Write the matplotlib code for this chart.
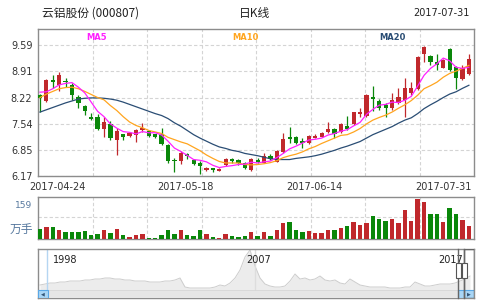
import matplotlib
matplotlib.use("Agg")
import matplotlib.pyplot as plt
from matplotlib.patches import Rectangle

# === Données ===
title_txt = "云铝股份 (000807)"
period_txt = "日K线"
last_date = "2017-07-31"
date_labels = ["2017-04-24", "2017-05-18", "2017-06-14", "2017-07-31"]
date_label_pos = [2.8, 22.7, 42.8, 63.0]
price_ticks = [6.17, 6.85, 7.54, 8.22, 8.91, 9.59]

opens = [8.28, 8.13, 8.67, 8.56, 8.66, 8.55, 8.24, 8.01, 7.70, 7.72,
         7.40, 7.52, 7.11, 7.26, 7.22, 7.24, 7.37, 7.35, 7.26, 7.26,
         6.98, 6.59, 6.55, 6.74, 6.59, 6.51, 6.32, 6.37, 6.31, 6.45,
         6.62, 6.58, 6.50, 6.33, 6.60, 6.52, 6.69, 6.54, 6.81, 7.18,
         7.20, 7.09, 7.02, 7.17, 7.20, 7.33, 7.40, 7.31, 7.48, 7.52,
         7.79, 7.75, 8.23, 8.13, 8.02, 7.94, 8.09, 8.16, 8.33, 8.44,
         9.36, 9.31, 9.14, 9.00, 9.49, 9.02, 8.70, 8.83]
highs = [8.31, 8.70, 8.80, 8.89, 8.74, 8.59, 8.28, 8.02, 7.81, 7.78,
         7.72, 7.61, 7.42, 7.28, 7.33, 7.41, 7.55, 7.37, 7.28, 7.43,
         7.00, 6.63, 6.82, 6.76, 6.61, 6.55, 6.41, 6.39, 6.38, 6.65,
         6.65, 6.61, 6.53, 6.63, 6.63, 6.78, 6.74, 6.84, 7.30, 7.44,
         7.22, 7.15, 7.25, 7.26, 7.33, 7.58, 7.42, 7.55, 7.75, 7.85,
         7.94, 8.30, 8.52, 8.18, 8.07, 8.33, 8.46, 8.72, 8.63, 9.31,
         9.56, 9.33, 9.37, 9.23, 9.52, 9.05, 9.07, 9.35]
lows = [7.85, 8.11, 8.48, 8.39, 8.50, 8.15, 7.94, 7.76, 7.63, 7.37,
        7.20, 7.11, 6.72, 7.11, 7.20, 7.07, 7.33, 7.20, 7.15, 6.98,
        6.50, 6.28, 6.48, 6.62, 6.46, 6.23, 6.29, 6.28, 6.29, 6.42,
        6.52, 6.46, 6.35, 6.31, 6.50, 6.50, 6.59, 6.53, 6.78, 7.02,
        7.00, 6.89, 7.00, 7.15, 7.18, 7.30, 7.15, 7.30, 7.37, 7.50,
        7.72, 7.72, 7.87, 7.89, 7.72, 7.90, 8.05, 7.72, 8.29, 8.42,
        9.16, 9.07, 8.94, 8.98, 8.92, 8.45, 8.68, 8.81]
closes = [8.20, 8.68, 8.63, 8.82, 8.62, 8.28, 8.09, 7.87, 7.66, 7.39,
          7.57, 7.15, 7.35, 7.19, 7.29, 7.37, 7.43, 7.22, 7.20, 7.00,
          6.55, 6.55, 6.76, 6.68, 6.48, 6.42, 6.37, 6.32, 6.36, 6.62,
          6.55, 6.50, 6.37, 6.61, 6.54, 6.68, 6.61, 6.83, 7.14, 7.13,
          7.02, 7.04, 7.22, 7.22, 7.30, 7.41, 7.26, 7.52, 7.40, 7.83,
          7.85, 8.29, 8.18, 7.94, 7.94, 8.16, 8.24, 8.46, 8.46, 9.29,
          9.53, 9.14, 9.07, 9.20, 8.94, 8.72, 8.98, 9.22]

ma5 = [8.36, 8.37, 8.45, 8.55, 8.59, 8.61, 8.49, 8.34, 8.10, 7.86,
       7.72, 7.53, 7.42, 7.33, 7.31, 7.27, 7.33, 7.30, 7.30, 7.24,
       7.08, 6.90, 6.81, 6.71, 6.60, 6.58, 6.54, 6.45, 6.39, 6.42,
       6.44, 6.47, 6.48, 6.53, 6.51, 6.54, 6.56, 6.65, 6.76, 6.88,
       6.95, 7.03, 7.11, 7.13, 7.16, 7.24, 7.28, 7.34, 7.38, 7.48,
       7.57, 7.78, 7.91, 8.02, 8.04, 8.10, 8.09, 8.15, 8.25, 8.52,
       8.80, 8.98, 9.10, 9.25, 9.18, 9.01, 8.98, 9.01]
ma10 = [8.22, 8.31, 8.38, 8.45, 8.48, 8.49, 8.45, 8.38, 8.30, 8.22,
        8.16, 8.01, 7.88, 7.72, 7.58, 7.49, 7.43, 7.36, 7.32, 7.28,
        7.18, 7.12, 7.06, 7.01, 6.92, 6.83, 6.72, 6.63, 6.55, 6.51,
        6.51, 6.51, 6.47, 6.46, 6.47, 6.49, 6.52, 6.57, 6.65, 6.70,
        6.74, 6.80, 6.88, 6.94, 7.02, 7.09, 7.16, 7.23, 7.25, 7.32,
        7.41, 7.53, 7.63, 7.70, 7.76, 7.84, 7.94, 8.03, 8.14, 8.28,
        8.45, 8.53, 8.62, 8.75, 8.85, 8.91, 8.98, 9.06]
ma20 = [7.84, 7.90, 7.96, 8.02, 8.08, 8.13, 8.18, 8.20, 8.21, 8.21,
        8.20, 8.18, 8.15, 8.10, 8.04, 7.98, 7.92, 7.86, 7.80, 7.75,
        7.67, 7.56, 7.47, 7.36, 7.25, 7.16, 7.08, 7.00, 6.93, 6.89,
        6.84, 6.81, 6.76, 6.73, 6.70, 6.66, 6.62, 6.60, 6.60, 6.60,
        6.63, 6.65, 6.67, 6.70, 6.74, 6.79, 6.84, 6.90, 6.95, 7.01,
        7.07, 7.16, 7.25, 7.32, 7.39, 7.46, 7.55, 7.63, 7.69, 7.80,
        7.93, 8.03, 8.12, 8.22, 8.31, 8.37, 8.46, 8.54]

# volumes en 万手
volumes = [41, 49, 46, 37, 26, 29, 26, 33, 17, 21,
           37, 25, 41, 17, 9, 17, 21, 5, 3, 17,
           37, 21, 37, 17, 13, 37, 21, 9, 5, 21,
           13, 9, 13, 29, 13, 26, 13, 37, 62, 66,
           37, 26, 33, 22, 25, 37, 37, 42, 50, 69,
           54, 65, 90, 78, 73, 81, 65, 117, 73, 159,
           148, 98, 101, 69, 125, 98, 77, 53]
vol_max_label = "159"
vol_unit = "万手"

# historique long (navigateur 1998 -> 2017)
hist_level = [5, 6, 7, 7, 8, 8, 9, 9, 9, 10,
              10, 11, 11, 12, 12, 11, 11, 10, 10, 9,
              9, 9, 8, 8, 8, 9, 9, 10, 12, 3,
              2, 2, 2, 2, 2, 3, 5, 4, 7, 12,
              20, 33, 40, 24, 12, 6, 4, 3, 3, 4,
              9, 16, 11, 12, 10, 11, 14, 10, 9, 10,
              7, 6, 11, 8, 5, 4, 3, 3, 3, 3,
              2, 2, 2, 3, 3, 8, 6, 4, 4, 5,
              6, 6, 6, 7, 9, 11, 14]
hist_years = ["1998", "2007", "2017"]

RED = "#c0282c"
GREEN = "#0a870a"
GRID = "#d4d4d4"
FRAME = "#8c8c8c"
CJK = ["Noto Sans CJK SC", "DejaVu Sans"]

plt.rcParams["font.family"] = ["DejaVu Sans"]

fig = plt.figure(figsize=(4.86, 3.07), dpi=100)
fig.patch.set_facecolor("white")

W, H = 486.0, 307.0


def px_axes(x0, y0, x1, y1):
    return fig.add_axes([x0 / W, 1 - y1 / H, (x1 - x0) / W, (y1 - y0) / H])


def style_frame(ax):
    for s in ax.spines.values():
        s.set_color(FRAME)
        s.set_linewidth(1.0)
    ax.tick_params(length=0, labelsize=7, colors="#333333")


def draw_vgrid(ax):
    for k in range(1, 8):
        ax.axvline(-0.31 + k * (68.11 / 8), color=GRID, lw=0.8,
                   ls=(0, (3, 2)), zorder=0)


n = len(closes)
xs = list(range(n))
colors = [RED if c >= o else GREEN for o, c in zip(opens, closes)]

# === Graphique principal (K线) ===
ax = px_axes(38, 29, 474, 176)
style_frame(ax)
ax.set_xlim(-0.31, 67.8)
ax.set_ylim(6.17, 10.01)
ax.set_yticks(price_ticks)
ax.set_yticklabels(["%.2f" % t for t in price_ticks])
ax.tick_params(axis="y", pad=4)
ax.yaxis.grid(True, color=GRID, lw=0.8, ls=(0, (3, 2)), zorder=0)
draw_vgrid(ax)
ax.set_xticks(date_label_pos)
ax.set_xticklabels(date_labels)
ax.tick_params(axis="x", pad=4)

ax.vlines(xs, lows, highs, colors=colors, lw=0.9, zorder=2)
bottoms = [min(o, c) for o, c in zip(opens, closes)]
heights = [max(abs(c - o), 0.025) for o, c in zip(opens, closes)]
ax.bar(xs, heights, bottom=bottoms, width=0.66, color=colors, zorder=3)

ax.plot(xs, ma20, color="#2a4d74", lw=0.9, zorder=4)
ax.plot(xs, ma10, color="#ffa51f", lw=0.9, zorder=4)
ax.plot(xs, ma5, color="#ff20ff", lw=0.9, zorder=4)

for lbl, fx, col in [("MA5", 0.135, "#ff20ff"), ("MA10", 0.475, "#ffa51f"),
                     ("MA20", 0.814, "#2a4d74")]:
    ax.text(fx, 0.945, lbl, transform=ax.transAxes, ha="center", va="center",
            fontsize=6, fontweight="bold", color=col)

# === Titre ===
fig.text(42 / W, 1 - 13 / H, title_txt, family=CJK, fontsize=8.5,
         color="#222222", ha="left", va="center")
fig.text(255 / W, 1 - 13 / H, period_txt, family=CJK, fontsize=8.5,
         color="#222222", ha="center", va="center")
fig.text(470 / W, 1 - 13 / H, last_date, fontsize=7, color="#222222",
         ha="right", va="center")

# === Volume ===
axv = px_axes(38, 197, 474, 239)
style_frame(axv)
axv.set_xlim(-0.31, 67.8)
axv.set_ylim(0, 167)
axv.set_xticks([])
axv.set_yticks([87])
axv.set_yticklabels([])
axv.yaxis.grid(True, color=GRID, lw=0.8, ls=(0, (3, 2)), zorder=0)
draw_vgrid(axv)
axv.bar(xs, volumes, width=0.68, color=colors, zorder=3)
fig.text(32 / W, 1 - 205 / H, vol_max_label, fontsize=6.5, color="#56789e",
         ha="right", va="center")
fig.text(33 / W, 1 - 230 / H, vol_unit, family=CJK, fontsize=8.5,
         color="#56789e", ha="right", va="center")

# === Navigateur ===
axn = px_axes(38, 249, 474, 298)
style_frame(axn)
axn.set_xlim(-0.4, 86.8)
axn.set_ylim(-8, 41)
axn.set_xticks([])
axn.set_yticks([])
hx = list(range(len(hist_level)))
axn.fill_between(hx, 0, hist_level, color="#ececec", lw=0, zorder=1)
axn.plot(hx, hist_level, color="#cdcdcd", lw=0.7, zorder=2)
axn.axvline(1.4, color="#b5d6f2", lw=1, zorder=2)
axn.axvline(43.0, color="#dddddd", lw=1, zorder=2)
for lbl, fx in zip(hist_years, [0.034, 0.477, 0.917]):
    axn.text(fx, 0.77, lbl, transform=axn.transAxes, fontsize=7,
             color="#222222", ha="left", va="center")

# barre de défilement
axn.add_patch(Rectangle((0, 0), 1, 8 / 49, transform=axn.transAxes,
                        facecolor="#e6e6e6", edgecolor="#d6d6d6", lw=0.6, zorder=3))
axn.add_patch(Rectangle((0, 0), 9.5 / 436, 8 / 49, transform=axn.transAxes,
                        facecolor="#a9d6f6", edgecolor="#5aa8e6", lw=0.8, zorder=4))
axn.add_patch(Rectangle((420 / 436, 0), 16 / 436, 8 / 49, transform=axn.transAxes,
                        facecolor="#a9d6f6", edgecolor="#5aa8e6", lw=0.8, zorder=4))
axn.text(4.8 / 436, 4 / 49, "◀", transform=axn.transAxes, fontsize=3.5,
         color="#335577", ha="center", va="center", zorder=5)
axn.text(431 / 436, 4 / 49, "▶", transform=axn.transAxes, fontsize=3.5,
         color="#335577", ha="center", va="center", zorder=5)
# sélection
for fx in [420.3 / 436, 426 / 436]:
    axn.plot([fx, fx], [0, 1], transform=axn.transAxes, color="#666666",
             lw=1, zorder=5, clip_on=False)
axn.add_patch(Rectangle((426 / 436, 0), 10 / 436, 1, transform=axn.transAxes,
                        facecolor="none", edgecolor="#666666", lw=1, zorder=5))
for fx in [417.5 / 436, 423.5 / 436]:
    axn.add_patch(Rectangle((fx, 20 / 49), 5.6 / 436, 15 / 49,
                            transform=axn.transAxes, facecolor="white",
                            edgecolor="#555555", lw=0.8, zorder=6))

fig.savefig("out.png", dpi=100, facecolor="white")
